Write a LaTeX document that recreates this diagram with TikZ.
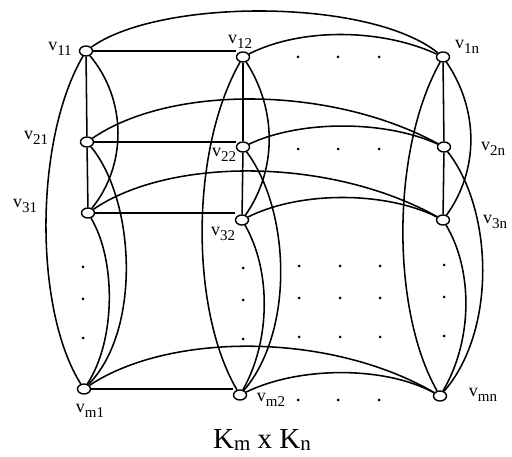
\documentclass[tikz,border=0pt]{standalone}
\usepackage{fontspec}
\setmainfont{Liberation Serif}
\usetikzlibrary{shapes.geometric}
\newcommand{\vl}[1]{\fontsize{18}{18}\selectfont v\raisebox{-5pt}{\fontsize{15}{15}\selectfont #1}}
\tikzset{
  vert/.style={draw, ellipse, minimum width=13pt, minimum height=10pt, inner sep=0pt, line width=1.4pt},
  edge/.style={line width=1.55pt},
  lab/.style={inner sep=0pt, anchor=center},
  dotp/.style={fill=black}
}
\begin{document}
\begin{tikzpicture}[x=1pt,y=-1pt]
\useasboundingbox (0,0) rectangle (512,457);
% vertices
\node[vert] (v11) at (86,51) {};
\node[vert] (v12) at (243,57) {};
\node[vert] (v1n) at (443,57) {};
\node[vert] (v21) at (87,142) {};
\node[vert] (v22) at (243,147) {};
\node[vert] (v2n) at (444,147) {};
\node[vert] (v31) at (88,213) {};
\node[vert] (v32) at (242,220) {};
\node[vert] (v3n) at (443,220) {};
\node[vert] (vm1) at (84,389) {};
\node[vert] (vm2) at (240,395) {};
\node[vert] (vmn) at (440,396) {};
% labels
\node[lab] (l11) at (60,49) {\vl{11}};
\node[lab] (l12) at (240,42) {\vl{12}};
\node[lab] (l1n) at (467,47) {\vl{1n}};
\node[lab] (l21) at (36,138) {\vl{21}};
\node[lab] (l22) at (224,155) {\vl{22}};
\node[lab] (l2n) at (493,149) {\vl{2n}};
\node[lab] (l31) at (25,206) {\vl{31}};
\node[lab] (l32) at (223,234) {\vl{32}};
\node[lab] (l3n) at (495,222) {\vl{3n}};
\node[lab] (lm1) at (90,411) {\vl{m1}};
\node[lab] (lm2) at (271,400) {\vl{m2}};
\node[lab] (lmn) at (483,395) {\vl{mn}};
% caption
\node[inner sep=0pt, anchor=base] (cap) at (262,448) {\fontsize{29}{29}\selectfont K\raisebox{-2.5pt}{\fontsize{21}{21}\selectfont m} x K\raisebox{-2.5pt}{\fontsize{21}{21}\selectfont n}};
% straight edges
\draw[edge] (v11.east) -- (v11.east -| v12.west);
\draw[edge] (v21.east) -- (v21.east -| v22.west);
\draw[edge] (v31.east) -- (v31.east -| v32.west);
\draw[edge] (vm1.east) -- (vm1.east -| vm2.west);
\draw[edge] (v11) -- (v21);
\draw[edge] (v21) -- (v31);
\draw[edge] (v12) -- (v22);
\draw[edge] (v22) -- (v32);
\draw[edge] (v1n) -- (v2n);
\draw[edge] (v2n) -- (v3n);
% column 1 curves
\draw[edge] (v11) .. controls (34,140) and (34,310) .. (vm1);
\draw[edge] (v11) .. controls (127,100) and (127,165) .. (v31);
\draw[edge] (v21) .. controls (135,200) and (142,330) .. (vm1);
\draw[edge] (v31) .. controls (116,260) and (116,340) .. (vm1);
% column 2 curves
\draw[edge] (v12) .. controls (190,150) and (190,310) .. (vm2);
\draw[edge] (v12) .. controls (277,110) and (277,170) .. (v32);
\draw[edge] (v22) .. controls (290,210) and (295,330) .. (vm2);
\draw[edge] (v32) .. controls (271,270) and (271,340) .. (vm2);
% column n curves
\draw[edge] (v1n) .. controls (391,150) and (391,310) .. (vmn);
\draw[edge] (v1n) .. controls (479,110) and (479,170) .. (v3n);
\draw[edge] (v2n) .. controls (493,210) and (497,330) .. (vmn);
\draw[edge] (v3n) .. controls (473,270) and (473,340) .. (vmn);
% row curves
\draw[edge] (v11) .. controls (160,-2) and (370,-2) .. (v1n);
\draw[edge] (v12) .. controls (300,28) and (380,28) .. (v1n);
\draw[edge] (v21) .. controls (170,85) and (330,85) .. (v2n);
\draw[edge] (v22) .. controls (300,120) and (385,120) .. (v2n);
\draw[edge] (v31) .. controls (170,157) and (330,157) .. (v3n);
\draw[edge] (v32) .. controls (300,191) and (385,191) .. (v3n);
\draw[edge] (vm1) .. controls (170,332) and (330,332) .. (vmn);
\draw[edge] (vm2) .. controls (300,366) and (385,366) .. (vmn);
% dots
\foreach \x in {298,338,379} {
  \fill[dotp] (\x,57) circle (1.5pt);
  \fill[dotp] (\x,149) circle (1.5pt);
  \fill[dotp] (\x,400) circle (1.5pt);
}
\foreach \y in {266,298,337} {
  \fill[dotp] (83,\y+1) circle (1.5pt);
  \fill[dotp] (243,\y+2) circle (1.5pt);
  \fill[dotp] (299,\y) circle (1.5pt);
  \fill[dotp] (340,\y) circle (1.5pt);
  \fill[dotp] (380,\y) circle (1.5pt);
  \fill[dotp] (444,\y-1) circle (1.5pt);
}
\end{tikzpicture}
\end{document}
